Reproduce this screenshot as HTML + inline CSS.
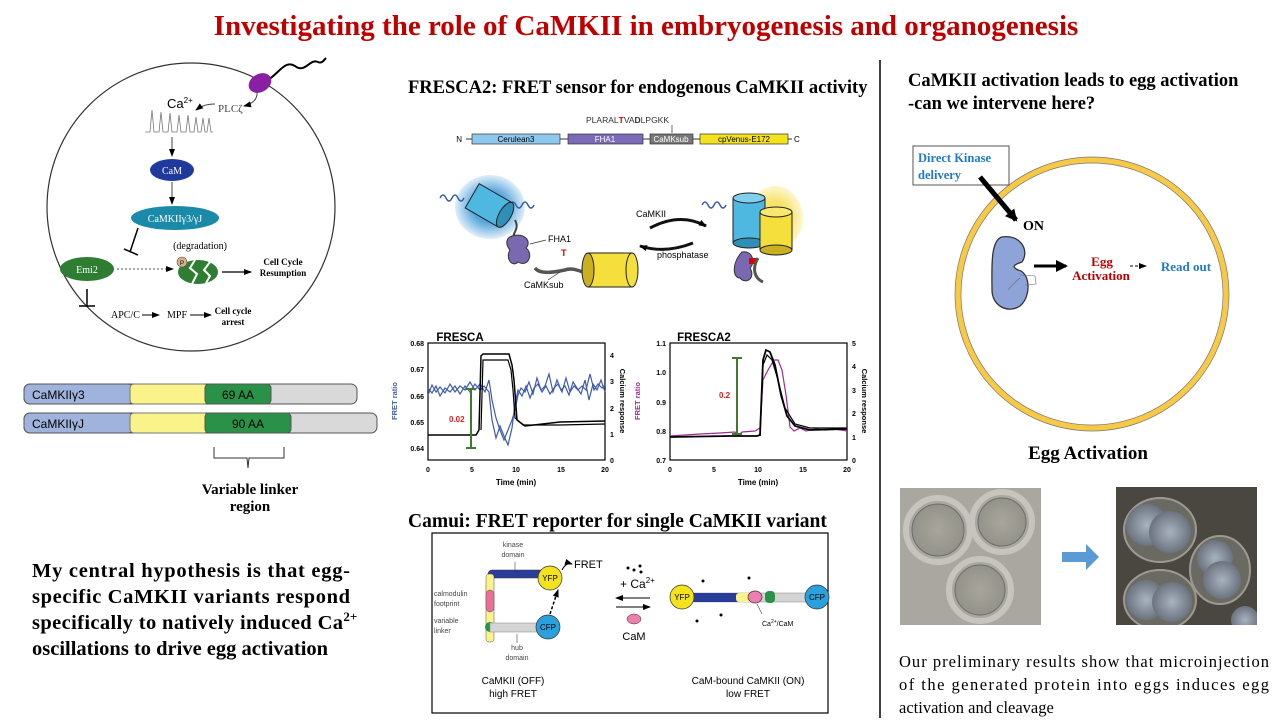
<!DOCTYPE html>
<html><head><meta charset="utf-8"><style>
body{margin:0;width:1280px;height:720px;background:#fff;overflow:hidden}
svg{display:block}
.s{font-family:"Liberation Serif",serif}
.a{font-family:"Liberation Sans",sans-serif}
</style></head><body>
<svg width="1280" height="720" viewBox="0 0 1280 720">
<defs>
<marker id="ar" markerWidth="8" markerHeight="8" refX="7" refY="4" orient="auto" markerUnits="userSpaceOnUse"><path d="M0,1 L8,4 L0,7z" fill="#000"/></marker>
<marker id="arb" markerWidth="14" markerHeight="14" refX="10" refY="7" orient="auto" markerUnits="userSpaceOnUse"><path d="M0,1 L12,7 L0,13z" fill="#000"/></marker>
<radialGradient id="bg" cx="50%" cy="50%" r="50%"><stop offset="0.5" stop-color="#5aa6dc"/><stop offset="1" stop-color="#e0effa"/></radialGradient>
<radialGradient id="yg" cx="50%" cy="50%" r="50%"><stop offset="0.5" stop-color="#f8e36a"/><stop offset="1" stop-color="#fdf7d0"/></radialGradient>
<radialGradient id="p1" cx="50%" cy="50%" r="60%"><stop offset="0" stop-color="#a8a69c"/><stop offset="1" stop-color="#8f8e86"/></radialGradient>
<radialGradient id="p2" cx="50%" cy="50%" r="60%"><stop offset="0" stop-color="#a9b2c0"/><stop offset="1" stop-color="#5d6670"/></radialGradient>
<clipPath id="cp"><rect x="1116" y="487" width="141" height="138"/></clipPath>
</defs>

<text x="646" y="35" text-anchor="middle" class="s" font-size="29" font-weight="bold" fill="#c00000">Investigating the role of CaMKII in embryogenesis and organogenesis</text>
<line x1="880" y1="60" x2="880" y2="718" stroke="#000" stroke-width="1.5"/>

<!-- left cell -->
<circle cx="191" cy="207" r="144" fill="none" stroke="#333" stroke-width="1.2"/>
<path d="M268,80 C280,72 285,60 295,66 C305,74 310,58 318,62 C322,64 324,60 326,58" fill="none" stroke="#000" stroke-width="2"/>
<ellipse cx="260" cy="83" rx="12" ry="9" fill="#8b1fa3" transform="rotate(-30 260 83)"/>
<path d="M257,91 C258,100 252,104 244,106" fill="none" stroke="#444" marker-end="url(#ar)"/>
<text x="167" y="108" class="a" font-size="13">Ca<tspan font-size="8" dy="-5">2+</tspan></text>
<text x="218" y="112" class="s" font-size="11" fill="#444">PLCζ</text>
<path d="M215,104 C205,104 200,107 196,110" fill="none" stroke="#444" marker-end="url(#ar)"/>
<path d="M145,132 L150,132 L152,110 L154,132 L159,132 L161,112 L163,132 L168,132 L170,113 L172,132 L177,132 L179,115 L181,132 L186,132 L188,115 L190,132 L194,132 L196,117 L198,132 L201,132 L203,118 L205,132 L207,132 L209,118 L211,132 L213,132" fill="none" stroke="#777" stroke-width="0.8"/>
<line x1="172" y1="137" x2="172" y2="156" stroke="#444" marker-end="url(#ar)"/>
<ellipse cx="172" cy="170" rx="22" ry="11" fill="#1f3a9c"/>
<text x="172" y="174" text-anchor="middle" class="s" font-size="10" fill="#fff">CaM</text>
<line x1="172" y1="182" x2="172" y2="204" stroke="#444" marker-end="url(#ar)"/>
<ellipse cx="175" cy="218" rx="44" ry="12" fill="#1a8aa8"/>
<text x="175" y="222" text-anchor="middle" class="s" font-size="10" fill="#fff">CaMKIIγ3/γJ</text>
<line x1="138" y1="228" x2="130" y2="252" stroke="#000" stroke-width="1.5"/>
<line x1="124" y1="249" x2="138" y2="255" stroke="#000" stroke-width="1.5"/>
<ellipse cx="87" cy="269" rx="27" ry="12" fill="#2e7d32"/>
<text x="87" y="273" text-anchor="middle" class="s" font-size="10" fill="#fff">Emi2</text>
<line x1="117" y1="269" x2="173" y2="269" stroke="#555" stroke-dasharray="2,2" marker-end="url(#ar)"/>
<text x="200" y="249" text-anchor="middle" class="s" font-size="10">(degradation)</text>
<ellipse cx="198" cy="272" rx="20" ry="12" fill="#2e7d32"/>
<path d="M195,260 L190,268 L197,274 L192,284 M210,262 L204,270 L210,276 L206,283" stroke="#fff" stroke-width="2" fill="none"/>
<circle cx="182" cy="262" r="5" fill="#d9b08c" stroke="#555" stroke-width="0.6"/>
<text x="182" y="265" text-anchor="middle" class="a" font-size="6">P</text>
<line x1="222" y1="272" x2="251" y2="272" stroke="#000" stroke-width="1.2" marker-end="url(#ar)"/>
<text x="283" y="265" text-anchor="middle" class="s" font-size="9" font-weight="bold">Cell Cycle</text>
<text x="283" y="276" text-anchor="middle" class="s" font-size="9" font-weight="bold">Resumption</text>
<line x1="87" y1="289" x2="87" y2="306" stroke="#000" stroke-width="1.5"/>
<line x1="79" y1="306" x2="95" y2="306" stroke="#000" stroke-width="1.5"/>
<text x="111" y="318" class="s" font-size="10">APC/C</text>
<line x1="142" y1="315" x2="159" y2="315" stroke="#000" marker-end="url(#ar)"/>
<text x="167" y="318" class="s" font-size="10">MPF</text>
<line x1="190" y1="315" x2="211" y2="315" stroke="#000" marker-end="url(#ar)"/>
<text x="233" y="314" text-anchor="middle" class="s" font-size="9" font-weight="bold">Cell cycle</text>
<text x="233" y="325" text-anchor="middle" class="s" font-size="9" font-weight="bold">arrest</text>

<!-- bars -->
<rect x="24" y="384" width="333" height="20" rx="6" fill="#d9d9d9" stroke="#555"/>
<rect x="24" y="384" width="110" height="20" rx="6" fill="#9fb3dd" stroke="#555"/>
<rect x="130" y="384" width="78" height="20" rx="4" fill="#faf38a" stroke="#777"/>
<rect x="205" y="384" width="66" height="20" rx="4" fill="#2a9248" stroke="#555"/>
<text x="32" y="399" class="a" font-size="12">CaMKIIγ3</text>
<text x="238" y="399" text-anchor="middle" class="a" font-size="12">69 AA</text>
<rect x="24" y="413" width="353" height="20" rx="6" fill="#d9d9d9" stroke="#555"/>
<rect x="24" y="413" width="110" height="20" rx="6" fill="#9fb3dd" stroke="#555"/>
<rect x="130" y="413" width="78" height="20" rx="4" fill="#faf38a" stroke="#777"/>
<rect x="205" y="413" width="86" height="20" rx="4" fill="#2a9248" stroke="#555"/>
<text x="32" y="428" class="a" font-size="12">CaMKIIγJ</text>
<text x="248" y="428" text-anchor="middle" class="a" font-size="12">90 AA</text>
<path d="M214,447 L214,458 L247,458 L248,468 L249,458 L284,458 L284,447" fill="none" stroke="#333"/>
<text x="250" y="494" text-anchor="middle" class="s" font-size="15" font-weight="bold">Variable linker</text>
<text x="250" y="511" text-anchor="middle" class="s" font-size="15" font-weight="bold">region</text>

<text class="s" font-size="20.5" font-weight="bold">
<tspan x="32" y="577" textLength="318" lengthAdjust="spacing">My central hypothesis is that egg-</tspan>
<tspan x="32" y="603" textLength="318" lengthAdjust="spacing">specific CaMKII variants respond</tspan>
<tspan x="32" y="629" textLength="311" lengthAdjust="spacing">specifically to natively induced Ca</tspan><tspan font-size="13" dy="-8">2+</tspan>
<tspan x="32" y="655">oscillations to drive egg activation</tspan>
</text>

<!-- middle top -->
<text x="408" y="93" class="s" font-size="18.5" font-weight="bold">FRESCA2: FRET sensor for endogenous CaMKII activity</text>
<text x="586" y="123" class="a" font-size="8.5" fill="#333">PLARAL<tspan fill="#d00" font-weight="bold">T</tspan>VA<tspan font-weight="bold">D</tspan>LPGKK</text>
<line x1="672" y1="125" x2="672" y2="133" stroke="#333" stroke-width="0.7"/>
<line x1="466" y1="139" x2="792" y2="139" stroke="#333"/>
<text x="462" y="142" text-anchor="end" class="a" font-size="8">N</text>
<text x="794" y="142" class="a" font-size="8">C</text>
<rect x="472" y="134" width="88" height="10" fill="#8ec8ee" stroke="#333" stroke-width="0.7"/>
<text x="516" y="142" text-anchor="middle" class="a" font-size="8">Cerulean3</text>
<rect x="568" y="134" width="75" height="10" fill="#7b6ab5" stroke="#333" stroke-width="0.7"/>
<text x="605" y="142" text-anchor="middle" class="a" font-size="8" fill="#fff">FHA1</text>
<rect x="650" y="134" width="43" height="10" fill="#777" stroke="#333" stroke-width="0.7"/>
<text x="671" y="142" text-anchor="middle" class="a" font-size="8" fill="#fff">CaMKsub</text>
<rect x="700" y="134" width="88" height="10" fill="#f3e21c" stroke="#333" stroke-width="0.7"/>
<text x="744" y="142" text-anchor="middle" class="a" font-size="8">cpVenus-E172</text>

<!-- cartoon left -->
<ellipse cx="490" cy="207" rx="35" ry="32" fill="url(#bg)"/>
<path d="M440,198 q3,-6 6,0 q3,6 6,0 q3,-6 6,0 q3,6 6,0" fill="none" stroke="#3b5ea8" stroke-width="1.5"/>
<path d="M510,205 q3,-6 6,0 q3,6 6,0 q3,-6 6,0 q3,6 6,0" fill="none" stroke="#3b5ea8" stroke-width="1.5"/>
<g transform="rotate(30 490 205)"><rect x="470" y="192" width="38" height="28" fill="#4fb8e0" stroke="#222"/><ellipse cx="508" cy="206" rx="6" ry="14" fill="#2f8fb8" stroke="#222"/></g>
<path d="M515,220 C520,230 512,232 514,238" stroke="#444" stroke-width="2" fill="none"/>
<path d="M512,236 C525,232 532,242 526,248 C534,254 528,268 518,262 C512,268 505,258 510,250 C505,244 506,238 512,236z" fill="#7a68b0" stroke="#333"/>
<text x="548" y="242" class="a" font-size="9">FHA1</text>
<line x1="530" y1="244" x2="546" y2="240" stroke="#333" stroke-width="0.7"/>
<path d="M535,268 C540,275 555,272 565,270 C575,266 585,275 595,275" stroke="#555" stroke-width="3.5" fill="none"/>
<text x="561" y="256" class="a" font-size="9" fill="#d00" font-weight="bold">T</text>
<text x="524" y="288" class="a" font-size="9">CaMKsub</text>
<line x1="548" y1="280" x2="560" y2="272" stroke="#333" stroke-width="0.7"/>
<rect x="588" y="253" width="44" height="34" fill="#f5df3c" stroke="#222"/>
<ellipse cx="588" cy="270" rx="6" ry="17" fill="#c9b020" stroke="#222"/>
<ellipse cx="632" cy="270" rx="6" ry="17" fill="#f5df3c" stroke="#222"/>
<text x="636" y="217" class="a" font-size="9">CaMKII</text>
<path d="M650,228 Q680,212 706,226" fill="none" stroke="#111" stroke-width="3" marker-end="url(#ar)"/>
<path d="M693,243 Q665,254 640,246" fill="none" stroke="#111" stroke-width="3" marker-end="url(#ar)"/>
<text x="657" y="258" class="a" font-size="9">phosphatase</text>
<ellipse cx="775" cy="218" rx="28" ry="32" fill="url(#yg)"/>
<path d="M702,205 q3,-6 6,0 q3,6 6,0 q3,-6 6,0 q3,6 6,0" fill="none" stroke="#3b5ea8" stroke-width="1.5"/>
<rect x="733" y="198" width="32" height="45" fill="#4fb8e0" stroke="#222"/>
<ellipse cx="749" cy="198" rx="16" ry="5" fill="#7fd0ee" stroke="#222"/>
<ellipse cx="749" cy="243" rx="16" ry="5" fill="#2f8fb8" stroke="#222"/>
<rect x="760" y="212" width="32" height="38" fill="#f5df3c" stroke="#222"/>
<ellipse cx="776" cy="212" rx="16" ry="5" fill="#f8e870" stroke="#222"/>
<ellipse cx="776" cy="250" rx="16" ry="5" fill="#c9b020" stroke="#222"/>
<path d="M742,252 C752,250 756,262 750,268 C756,278 746,285 740,278 C732,278 732,262 742,252z" fill="#7a68b0" stroke="#333"/>
<rect x="749" y="258" width="7" height="6" fill="#d00"/>
<path d="M758,258 C752,268 754,278 763,282" stroke="#555" stroke-width="3" fill="none"/>

<!-- charts -->
<text x="460" y="341" text-anchor="middle" class="a" font-size="11.5" font-weight="bold">FRESCA</text>
<rect x="428" y="343" width="177" height="117" fill="none" stroke="#000" stroke-width="1.2"/>
<g class="a" font-size="7" font-weight="bold">
<text x="424" y="346" text-anchor="end">0.68</text><text x="424" y="372" text-anchor="end">0.67</text><text x="424" y="399" text-anchor="end">0.66</text><text x="424" y="425" text-anchor="end">0.65</text><text x="424" y="451" text-anchor="end">0.64</text>
<text x="610" y="358">4</text><text x="610" y="384">3</text><text x="610" y="411">2</text><text x="610" y="437">1</text><text x="610" y="463">0</text>
<text x="428" y="472" text-anchor="middle">0</text><text x="472" y="472" text-anchor="middle">5</text><text x="516" y="472" text-anchor="middle">10</text><text x="561" y="472" text-anchor="middle">15</text><text x="605" y="472" text-anchor="middle">20</text>
<text x="516" y="485" text-anchor="middle" font-size="8">Time (min)</text>
</g>
<text transform="translate(397,401) rotate(-90)" text-anchor="middle" class="a" font-size="7.5" font-weight="bold" fill="#3f5bb0">FRET ratio</text>
<text transform="translate(620,401) rotate(90)" text-anchor="middle" class="a" font-size="7.5" font-weight="bold">Calcium response</text>
<polyline points="428,395 432,385 436,392 440,387 445,393 450,384 455,392 460,386 465,390 470,382 475,390 480,384 485,392 489,380 492,400 496,418 500,430 504,440 508,430 512,420 515,410 518,395 521,388 525,392 529,382 533,394 537,378 541,390 545,386 549,374 553,392 557,380 561,390 565,386 569,395 573,382 577,388 581,394 585,380 589,400 593,384 597,390 601,380 605,392" fill="none" stroke="#3f5bb0" stroke-width="1.2"/>
<polyline points="428,388 432,393 436,386 440,396 445,388 450,392 455,386 460,394 465,386 470,392 475,384 480,390 484,386 489,392 492,420 496,438 500,426 504,436 508,445 512,428 515,404 518,390 522,396 526,386 530,398 534,388 538,384 542,392 546,386 550,394 554,388 558,384 562,392 566,378 570,392 574,386 578,390 582,386 586,390 590,374 594,390 598,384 602,388 605,385" fill="none" stroke="#3f5bb0" stroke-width="1.2"/>
<polyline points="428,435 476,435 479,430 481,356 483,354 509,354 512,365 514,380 517,420 525,426 560,422 605,421" fill="none" stroke="#000" stroke-width="1.5"/>
<polyline points="481,430 483,360 508,360 511,370 513,390 515,418 523,425 560,425 605,424" fill="none" stroke="#000" stroke-width="1.2"/>
<line x1="471" y1="389" x2="471" y2="448" stroke="#3f7a2e" stroke-width="2"/>
<line x1="466" y1="389" x2="476" y2="389" stroke="#3f7a2e" stroke-width="2"/><line x1="466" y1="448" x2="476" y2="448" stroke="#3f7a2e" stroke-width="2"/>
<text x="449" y="422" class="a" font-size="8" font-weight="bold" fill="#e02020">0.02</text>

<text x="704" y="341" text-anchor="middle" class="a" font-size="11.5" font-weight="bold">FRESCA2</text>
<rect x="670" y="343" width="177" height="117" fill="none" stroke="#000" stroke-width="1.2"/>
<g class="a" font-size="7" font-weight="bold">
<text x="666" y="346" text-anchor="end">1.1</text><text x="666" y="375" text-anchor="end">1.0</text><text x="666" y="405" text-anchor="end">0.9</text><text x="666" y="434" text-anchor="end">0.8</text><text x="666" y="463" text-anchor="end">0.7</text>
<text x="852" y="346">5</text><text x="852" y="369">4</text><text x="852" y="393">3</text><text x="852" y="416">2</text><text x="852" y="440">1</text><text x="852" y="463">0</text>
<text x="670" y="472" text-anchor="middle">0</text><text x="714" y="472" text-anchor="middle">5</text><text x="758" y="472" text-anchor="middle">10</text><text x="803" y="472" text-anchor="middle">15</text><text x="847" y="472" text-anchor="middle">20</text>
<text x="758" y="485" text-anchor="middle" font-size="8">Time (min)</text>
</g>
<text transform="translate(640,401) rotate(-90)" text-anchor="middle" class="a" font-size="7.5" font-weight="bold" fill="#a02a9a">FRET ratio</text>
<text transform="translate(862,401) rotate(90)" text-anchor="middle" class="a" font-size="7.5" font-weight="bold">Calcium response</text>
<polyline points="670,436 700,434 720,433 735,432 738,436 742,432 755,431 760,428 763,380 768,370 774,360 778,360 782,370 786,395 790,427 794,431 800,428 806,431 815,429 825,430 835,429 847,431" fill="none" stroke="#a02a9a" stroke-width="1.2"/>
<polyline points="670,437 730,436 757,436 760,435 763,360 766,350 770,352 775,365 781,395 787,416 795,426 810,430 847,429" fill="none" stroke="#000" stroke-width="1.8"/>
<polyline points="760,436 763,365 767,355 772,360 778,380 785,408 795,424 810,428 847,428" fill="none" stroke="#000" stroke-width="1.2"/>
<line x1="737" y1="358" x2="737" y2="434" stroke="#3f7a2e" stroke-width="2"/>
<line x1="732" y1="358" x2="742" y2="358" stroke="#3f7a2e" stroke-width="2"/><line x1="732" y1="434" x2="742" y2="434" stroke="#3f7a2e" stroke-width="2"/>
<text x="719" y="398" class="a" font-size="8" font-weight="bold" fill="#e02020">0.2</text>

<!-- Camui -->
<text x="408" y="527" class="s" font-size="19.5" font-weight="bold">Camui: FRET reporter for single CaMKII variant</text>
<rect x="432" y="533" width="396" height="180" fill="none" stroke="#000" stroke-width="1.2"/>
<text x="513" y="547" text-anchor="middle" class="a" font-size="7" fill="#444">kinase</text>
<text x="513" y="557" text-anchor="middle" class="a" font-size="7" fill="#444">domain</text>
<line x1="515" y1="562" x2="515" y2="572" stroke="#444" stroke-width="0.6"/>
<rect x="488" y="570" width="70" height="8" rx="4" fill="#2a3c9a" stroke="#333" stroke-width="0.5"/>
<rect x="486" y="574" width="8" height="68" rx="3" fill="#faf38a" stroke="#555" stroke-width="0.5"/>
<rect x="486" y="590" width="8" height="22" rx="4" fill="#ec6f98" stroke="#555" stroke-width="0.5"/>
<circle cx="490" cy="627" r="5" fill="#2a9248"/>
<rect x="490" y="623" width="50" height="9" fill="#d4d4d4" stroke="#888" stroke-width="0.5"/>
<circle cx="550" cy="578" r="12" fill="#f3e21c" stroke="#333" stroke-width="0.7"/>
<text x="550" y="581" text-anchor="middle" class="a" font-size="8">YFP</text>
<path d="M562,570 Q566,562 572,564" fill="none" stroke="#000" marker-end="url(#ar)"/>
<text x="574" y="568" class="a" font-size="11">FRET</text>
<circle cx="548" cy="627" r="12" fill="#2aa0dc" stroke="#333" stroke-width="0.7"/>
<text x="548" y="630" text-anchor="middle" class="a" font-size="8">CFP</text>
<line x1="550" y1="614" x2="558" y2="590" stroke="#000" stroke-width="1.5" stroke-dasharray="3,2" marker-end="url(#ar)"/>
<text x="434" y="596" class="a" font-size="7" fill="#444">calmodulin</text>
<text x="434" y="606" class="a" font-size="7" fill="#444">footprint</text>
<text x="434" y="623" class="a" font-size="7" fill="#444">variable</text>
<text x="434" y="633" class="a" font-size="7" fill="#444">linker</text>
<text x="517" y="650" text-anchor="middle" class="a" font-size="7" fill="#444">hub</text>
<text x="517" y="660" text-anchor="middle" class="a" font-size="7" fill="#444">domain</text>
<line x1="517" y1="634" x2="517" y2="643" stroke="#444" stroke-width="0.6"/>
<text x="513" y="684" text-anchor="middle" class="a" font-size="10">CaMKII (OFF)</text>
<text x="513" y="697" text-anchor="middle" class="a" font-size="10">high FRET</text>
<circle cx="628" cy="568" r="1.5"/><circle cx="634" cy="570" r="1.5"/><circle cx="640" cy="566" r="1.5"/><circle cx="641" cy="572" r="1.5"/>
<text x="620" y="588" class="a" font-size="12">+ Ca<tspan font-size="8" dy="-5">2+</tspan></text>
<line x1="650" y1="598" x2="616" y2="598" stroke="#000" marker-end="url(#ar)"/>
<line x1="616" y1="607" x2="650" y2="607" stroke="#000" marker-end="url(#ar)"/>
<ellipse cx="634" cy="619" rx="7" ry="5" fill="#ec7fb0" stroke="#333" stroke-width="0.5"/>
<text x="634" y="640" text-anchor="middle" class="a" font-size="11">CaM</text>
<rect x="686" y="593" width="140" height="9" fill="#d4d4d4" stroke="#888" stroke-width="0.5"/>
<rect x="686" y="593" width="52" height="9" fill="#2a3c9a"/>
<rect x="736" y="593" width="18" height="9" rx="3" fill="#faf38a"/>
<rect x="765" y="591" width="10" height="12" rx="4" fill="#2a9248"/>
<circle cx="682" cy="597" r="12" fill="#f3e21c" stroke="#333" stroke-width="0.7"/>
<text x="682" y="600" text-anchor="middle" class="a" font-size="8">YFP</text>
<ellipse cx="755" cy="597" rx="7" ry="6" fill="#ec7fb0" stroke="#333" stroke-width="0.7"/>
<circle cx="817" cy="597" r="12" fill="#2aa0dc" stroke="#333" stroke-width="0.7"/>
<text x="817" y="600" text-anchor="middle" class="a" font-size="8">CFP</text>
<circle cx="703" cy="581" r="1.5"/><circle cx="749" cy="578" r="1.5"/><circle cx="697" cy="621" r="1.5"/><circle cx="721" cy="615" r="1.5"/>
<line x1="757" y1="604" x2="762" y2="614" stroke="#444" stroke-width="0.6"/>
<text x="762" y="626" class="a" font-size="7">Ca<tspan font-size="5" dy="-3">2+</tspan><tspan dy="3">/CaM</tspan></text>
<text x="748" y="684" text-anchor="middle" class="a" font-size="10">CaM-bound CaMKII (ON)</text>
<text x="748" y="697" text-anchor="middle" class="a" font-size="10">low FRET</text>

<!-- right -->
<text x="908" y="86" class="s" font-size="18.5" font-weight="bold">CaMKII activation leads to egg activation</text>
<text x="908" y="109" class="s" font-size="18.5" font-weight="bold">-can we intervene here?</text>
<circle cx="1092" cy="294" r="134" fill="none" stroke="#f7c945" stroke-width="6"/>
<circle cx="1092" cy="294" r="137" fill="none" stroke="#777" stroke-width="0.7"/>
<circle cx="1092" cy="294" r="131" fill="none" stroke="#777" stroke-width="0.7"/>
<rect x="913" y="146" width="96" height="39" fill="#fff" stroke="#555"/>
<text x="918" y="162" class="s" font-size="12.5" font-weight="bold" fill="#1f7ac8">Direct Kinase</text>
<text x="918" y="179" class="s" font-size="12.5" font-weight="bold" fill="#1f7ac8">delivery</text>
<line x1="980" y1="177" x2="1016" y2="220" stroke="#000" stroke-width="5" marker-end="url(#arb)"/>
<text x="1023" y="230" class="s" font-size="14" font-weight="bold">ON</text>
<path d="M1002,237 C1020,234 1030,250 1022,262 C1016,264 1010,266 1018,270 C1030,272 1032,296 1020,306 C1008,314 992,306 992,290 C992,270 990,240 1002,237z" fill="#8ea4d8" stroke="#333" stroke-width="1.3"/>
<path d="M1020,275 L1035,276 L1036,284 L1025,285 M1020,278 C1015,282 1012,285 1008,290" fill="none" stroke="#666" stroke-width="0.6"/>
<line x1="1034" y1="266" x2="1066" y2="266" stroke="#000" stroke-width="3" marker-end="url(#arb)"/>
<text x="1102" y="266" text-anchor="middle" class="s" font-size="13" font-weight="bold" fill="#c00000">Egg</text>
<text x="1101" y="280" text-anchor="middle" class="s" font-size="13" font-weight="bold" fill="#c00000">Activation</text>
<line x1="1130" y1="266" x2="1146" y2="266" stroke="#000" stroke-dasharray="3,2" marker-end="url(#ar)"/>
<text x="1186" y="271" text-anchor="middle" class="s" font-size="13" font-weight="bold" fill="#1f7ac8">Read out</text>
<text x="1088" y="459" text-anchor="middle" class="s" font-size="19" font-weight="bold">Egg Activation</text>

<!-- photos -->
<rect x="900" y="488" width="141" height="137" fill="#a9a7a0"/>
<circle cx="938" cy="530" r="32" fill="none" stroke="#c6c4bc" stroke-width="6"/>
<circle cx="938" cy="530" r="26" fill="url(#p1)" stroke="#6d6c66"/>
<circle cx="1002" cy="522" r="30" fill="none" stroke="#c6c4bc" stroke-width="6"/>
<circle cx="1002" cy="522" r="24" fill="url(#p1)" stroke="#6d6c66"/>
<circle cx="980" cy="590" r="31" fill="none" stroke="#c6c4bc" stroke-width="6"/>
<circle cx="980" cy="590" r="25" fill="url(#p1)" stroke="#6d6c66"/>
<path d="M1062,552 L1086,552 L1086,544 L1099,557 L1086,570 L1086,562 L1062,562z" fill="#5b9bd5"/>
<g clip-path="url(#cp)">
<rect x="1116" y="487" width="141" height="138" fill="#4a4640"/>
<ellipse cx="1160" cy="530" rx="36" ry="32" fill="#6b6a62" stroke="#9c9a90" stroke-width="2"/>
<circle cx="1147" cy="525" r="21" fill="url(#p2)"/><circle cx="1170" cy="532" r="21" fill="url(#p2)"/>
<ellipse cx="1220" cy="570" rx="30" ry="34" fill="#6b6a62" stroke="#9c9a90" stroke-width="2"/>
<circle cx="1215" cy="558" r="18" fill="url(#p2)"/><circle cx="1222" cy="580" r="19" fill="url(#p2)"/>
<ellipse cx="1160" cy="600" rx="36" ry="30" fill="#6b6a62" stroke="#9c9a90" stroke-width="2"/>
<circle cx="1146" cy="600" r="20" fill="url(#p2)"/><circle cx="1172" cy="602" r="20" fill="url(#p2)"/>
<circle cx="1245" cy="620" r="14" fill="url(#p2)"/>
</g>

<text class="s" font-size="16.5">
<tspan x="899" y="667" textLength="370" lengthAdjust="spacing">Our preliminary results show that microinjection</tspan>
<tspan x="899" y="690" textLength="370" lengthAdjust="spacing">of the generated protein into eggs induces egg</tspan>
<tspan x="899" y="713">activation and cleavage</tspan>
</text>
</svg>
</body></html>
